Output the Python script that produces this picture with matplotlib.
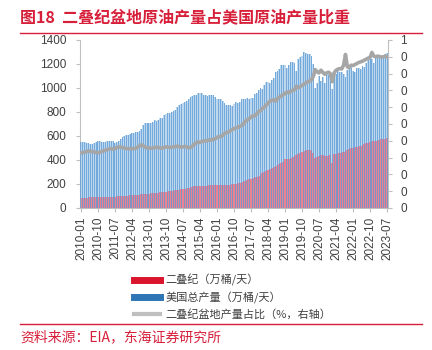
import matplotlib
matplotlib.use("Agg")
import matplotlib.pyplot as plt
from matplotlib.lines import Line2D
from matplotlib.ticker import FixedLocator, FuncFormatter, MultipleLocator
import numpy as np
import pandas as pd

plt.rcParams["font.family"] = ["Liberation Sans", "Noto Sans CJK SC"]

# monthly, 2010-01 .. 2023-07
months = pd.date_range("2010-01-01", periods=163, freq="MS").strftime("%Y-%m").tolist()

# US total crude output (万桶/天)
us_total = [
    548, 550, 546, 540, 538, 536, 530, 545, 552, 556, 556, 552,
    550, 548, 556, 558, 560, 556, 540, 552, 560, 575, 590, 598,
    605, 612, 620, 625, 628, 630, 632, 640, 655, 695, 705, 708,
    705, 712, 718, 730, 728, 735, 750, 752, 775, 780, 790, 795,
    800, 810, 820, 840, 860, 868, 878, 885, 892, 910, 925, 935,
    940, 945, 955, 962, 955, 940, 945, 935, 940, 942, 938, 925,
    912, 905, 910, 890, 872, 862, 858, 860, 850, 870, 880, 877,
    880, 905, 910, 912, 915, 912, 920, 915, 948, 962, 980, 1000,
    995, 1025, 1048, 1050, 1045, 1065, 1085, 1135, 1145, 1155, 1190, 1195,
    1190, 1165, 1190, 1215, 1215, 1210, 1140, 1240, 1255, 1270, 1298, 1290,
    1280, 1285, 1265, 1200, 998, 1045, 1100, 1060, 1090, 1040, 1115, 1110,
    1110, 995, 1120, 1115, 1140, 1130, 1135, 1120, 1090, 1150, 1180, 1170,
    1140, 1135, 1170, 1165, 1160, 1180, 1175, 1205, 1230, 1240, 1240, 1210,
    1260, 1270, 1275, 1262, 1270, 1280, 1290,
]

# Permian basin output (万桶/天)
permian = [
    86, 86, 87, 87, 88, 88, 88, 89, 89, 90, 90, 91,
    91, 90, 92, 93, 94, 95, 95, 96, 97, 98, 100, 101,
    102, 103, 105, 106, 108, 109, 110, 112, 113, 115, 117, 119,
    120, 121, 123, 125, 127, 128, 130, 132, 134, 136, 138, 140,
    142, 144, 147, 150, 153, 156, 159, 162, 166, 170, 174, 178,
    180, 181, 183, 185, 186, 186, 187, 188, 189, 190, 190, 190,
    190, 191, 192, 191, 190, 190, 192, 194, 196, 200, 204, 208,
    212, 216, 222, 226, 232, 238, 244, 250, 256, 262, 270, 278,
    288, 298, 308, 318, 326, 334, 342, 350, 360, 370, 378, 385,
    410, 405, 412, 418, 425, 430, 438, 450, 462, 470, 478, 480,
    482, 485, 486, 460, 420, 425, 435, 440, 438, 430, 435, 440,
    442, 375, 448, 452, 458, 460, 465, 470, 478, 485, 495, 500,
    502, 505, 510, 515, 520, 528, 535, 540, 545, 550, 555, 555,
    560, 565, 570, 572, 575, 578, 580,
]

# Permian share of US output (right axis)
share = [
    0.164, 0.165, 0.166, 0.168, 0.170, 0.169, 0.168, 0.167, 0.165, 0.164, 0.166, 0.168,
    0.170, 0.172, 0.174, 0.176, 0.177, 0.175, 0.177, 0.180, 0.182, 0.181, 0.180, 0.178,
    0.177, 0.177, 0.176, 0.176, 0.177, 0.178, 0.181, 0.185, 0.188, 0.185, 0.181, 0.179,
    0.179, 0.178, 0.178, 0.180, 0.181, 0.180, 0.179, 0.178, 0.180, 0.182, 0.181, 0.180,
    0.181, 0.182, 0.183, 0.184, 0.183, 0.181, 0.182, 0.183, 0.182, 0.179, 0.180, 0.184,
    0.190, 0.194, 0.197, 0.195, 0.198, 0.200, 0.199, 0.201, 0.203, 0.202, 0.204, 0.206,
    0.210, 0.213, 0.212, 0.216, 0.222, 0.224, 0.226, 0.230, 0.233, 0.236, 0.238, 0.240,
    0.243, 0.245, 0.250, 0.258, 0.262, 0.266, 0.270, 0.275, 0.274, 0.280, 0.287, 0.290,
    0.296, 0.300, 0.305, 0.312, 0.318, 0.321, 0.322, 0.318, 0.325, 0.330, 0.333, 0.337,
    0.341, 0.345, 0.343, 0.347, 0.350, 0.352, 0.362, 0.358, 0.361, 0.365, 0.368, 0.372,
    0.376, 0.378, 0.382, 0.392, 0.412, 0.405, 0.402, 0.410, 0.404, 0.398, 0.402, 0.404,
    0.400, 0.376, 0.402, 0.410, 0.413, 0.415, 0.414, 0.425, 0.457, 0.420, 0.418, 0.425,
    0.424, 0.427, 0.430, 0.433, 0.435, 0.437, 0.440, 0.443, 0.446, 0.448, 0.463, 0.452,
    0.450, 0.452, 0.451, 0.449, 0.450, 0.452, 0.450,
]

labels = ["二叠纪（万桶/天）", "美国总产量（万桶/天）", "二叠纪盆地产量占比（%，右轴）"]
title = "图18  二叠纪盆地原油产量占美国原油产量比重"
source = "资料来源：EIA，东海证券研究所"

RED = "#d71f3a"
TXT = "#404040"
SPINE = "#bfbfbf"

x = np.arange(len(months))

fig = plt.figure(figsize=(4.32, 3.5), dpi=100)
ax = fig.add_axes([80 / 432, 1 - 208 / 350, 308 / 432, 168 / 350])

# light fill + darker thin stripe, the way the striped columns look
ax.bar(x, us_total, width=1.0, color="#bdd7ee", linewidth=0, zorder=1)
ax.bar(x, permian, width=1.0, color="#ec8291", linewidth=0, zorder=2)
ax.bar(x, us_total, width=0.5, color="#5b9bd5", alpha=0.75, linewidth=0, zorder=3)

ax.set_xlim(-0.5, len(months) - 0.5)
ax.set_ylim(0, 1400)
ax.yaxis.set_major_locator(MultipleLocator(200))
tick_pos = x[::9]
ax.xaxis.set_major_locator(FixedLocator(tick_pos))
ax.set_xticklabels([months[i] for i in tick_pos], rotation=90)

ax2 = ax.twinx()
ax2.plot(x, share, color="#a6a6a6", lw=2.6, solid_joinstyle="round", zorder=5)
ax2.set_ylim(0, 0.5)
ax2.yaxis.set_major_locator(MultipleLocator(0.05))
# labels are rounded to whole numbers, so only the top reads "1"
ax2.yaxis.set_major_formatter(FuncFormatter(lambda v, p: str(int(v + 0.5 + 1e-9))))

for a in (ax, ax2):
    a.spines["top"].set_visible(False)
    for s in ("left", "right", "bottom"):
        a.spines[s].set_color(SPINE)
        a.spines[s].set_linewidth(0.8)
ax.spines["right"].set_visible(False)
ax2.spines["left"].set_visible(False)
ax2.spines["bottom"].set_visible(False)

ax.tick_params(axis="y", length=3, width=0.8, color=SPINE, labelsize=8.5,
               labelcolor=TXT, pad=7)
ax.tick_params(axis="x", length=3, width=0.8, color=SPINE, labelsize=8.5,
               labelcolor=TXT, pad=3)
ax2.tick_params(axis="y", length=3, width=0.8, color=SPINE, labelsize=8.5,
                labelcolor=TXT, pad=6)

handles = [
    Line2D([0], [0], color="#d9142b", lw=5),
    Line2D([0], [0], color="#2e75b6", lw=5),
    Line2D([0], [0], color="#bfbfbf", lw=3),
]
fig.legend(handles, labels, loc="center left", bbox_to_anchor=(128 / 432, 1 - 297 / 350),
           frameon=False, borderpad=0, handlelength=2.4, handletextpad=0.45,
           labelspacing=0.5, prop={"family": "Noto Sans CJK SC", "size": 8},
           labelcolor=TXT)

fig.text(20 / 432, 1 - 17 / 350, title, color=RED, fontsize=11.5, fontweight="bold",
         family="Noto Sans CJK SC", va="center", ha="left")
fig.add_artist(Line2D([20 / 432, 422 / 432], [1 - 33 / 350] * 2, color=RED, lw=1.0))
fig.add_artist(Line2D([20 / 432, 422 / 432], [1 - 324 / 350] * 2, color=RED, lw=1.0))
fig.text(20 / 432, 1 - 337 / 350, source, color=RED, fontsize=10,
         family="Noto Sans CJK SC", va="center", ha="left")

fig.savefig("out.png", dpi=100)
